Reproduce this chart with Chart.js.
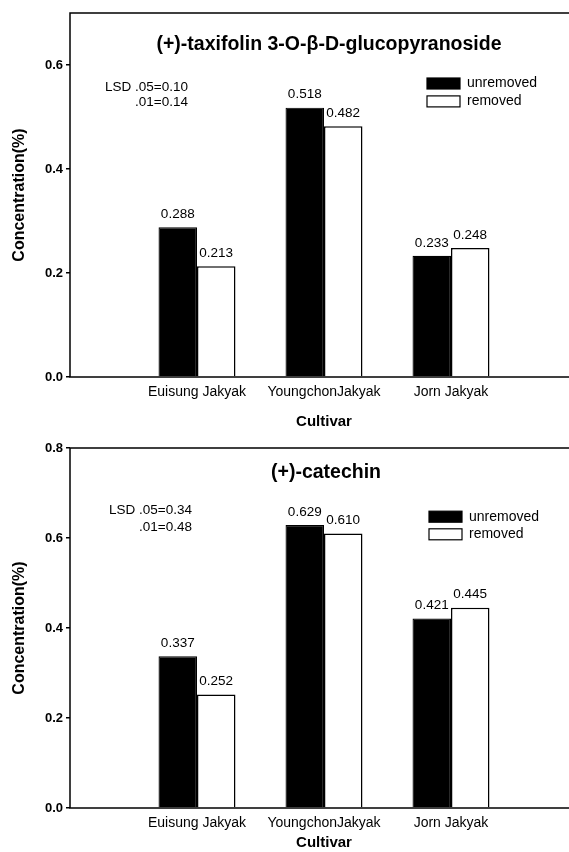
<!DOCTYPE html>
<html>
<head>
<meta charset="utf-8">
<script src="https://cdn.jsdelivr.net/npm/chart.js@4.4.0/dist/chart.umd.min.js"></script>
<style>
  html, body { margin: 0; padding: 0; background: #fff; overflow: hidden; width: 569px; height: 852px; }
  canvas { position: absolute; left: 0; }
  #grafico-taxifolin { top: 0; }
  #grafico-catechin { top: 432px; }
</style>
</head>
<body>
<canvas id="grafico-taxifolin" width="580" height="432"></canvas>
<canvas id="grafico-catechin" width="580" height="420"></canvas>
<script>
// --- DATA ---
const cultivars = ['Euisung Jakyak', 'YoungchonJakyak', 'Jorn Jakyak'];
const seriesNames = ['unremoved', 'removed'];
const taxifolinUnremoved = [0.288, 0.518, 0.233];
const taxifolinRemoved = [0.213, 0.482, 0.248];
const catechinUnremoved = [0.337, 0.629, 0.421];
const catechinRemoved = [0.252, 0.610, 0.445];
const taxifolinTicks = [0.0, 0.2, 0.4, 0.6];
const catechinTicks = [0.0, 0.2, 0.4, 0.6, 0.8];
const taxifolinLsd = ['LSD .05=0.10', '.01=0.14'];
const catechinLsd = ['LSD .05=0.34', '.01=0.48'];

const FONT = '"Liberation Sans", Arial, sans-serif';

// empty slot before and after the cultivars, so the groups sit at 1, 2, 3
const pad = arr => [null, ...arr, null];

// --- PLUGIN: frame, value labels, title, LSD note, legend ---
const painelPlugin = {
    id: 'painel',
    beforeDraw(chart) {
        const { ctx } = chart;
        ctx.save();
        ctx.fillStyle = '#fff';
        ctx.fillRect(0, 0, chart.width, chart.height);
        ctx.restore();
    },
    afterDatasetsDraw(chart, args, opts) {
        const { ctx, chartArea: a } = chart;
        ctx.save();
        ctx.strokeStyle = '#000';
        ctx.lineWidth = 1.5;
        ctx.strokeRect(a.left, a.top, a.right - a.left, a.bottom - a.top);

        // values over bars
        ctx.fillStyle = '#000';
        ctx.font = `13.5px ${FONT}`;
        ctx.textAlign = 'center';
        ctx.textBaseline = 'middle';
        chart.data.datasets.forEach((ds, i) => {
            chart.getDatasetMeta(i).data.forEach((bar, j) => {
                const v = ds.data[j];
                if (v == null) return;
                ctx.fillText(v.toFixed(3), bar.x, bar.y - 13);
            });
        });

        // title inside the plot
        ctx.font = `bold 19.5px ${FONT}`;
        ctx.fillText(opts.titulo, opts.tituloX, a.top + opts.tituloY);

        // LSD
        ctx.font = `13.5px ${FONT}`;
        ctx.textAlign = 'right';
        opts.lsd.forEach((linha, k) => ctx.fillText(linha, opts.lsdX, a.top + opts.lsdY[k]));

        // legend
        ctx.textAlign = 'left';
        ctx.font = `14px ${FONT}`;
        ctx.lineWidth = 1.2;
        chart.data.datasets.forEach((ds, i) => {
            const y = a.top + opts.legendaY[i];
            ctx.fillStyle = ds.backgroundColor;
            ctx.fillRect(opts.legendaX, y - 5.5, 33, 11);
            ctx.strokeRect(opts.legendaX, y - 5.5, 33, 11);
            ctx.fillStyle = '#000';
            ctx.fillText(ds.label, opts.legendaX + 40, y);
        });
        ctx.restore();
    }
};

function criarGrafico(canvasId, cfg) {
    const ctx = document.getElementById(canvasId).getContext('2d');
    return new Chart(ctx, {
        type: 'bar',
        data: {
            labels: pad(cultivars),
            datasets: [
                { label: seriesNames[0], data: pad(cfg.unremoved), backgroundColor: '#000', borderColor: '#000', borderWidth: 1.2 },
                { label: seriesNames[1], data: pad(cfg.removed), backgroundColor: '#fff', borderColor: '#000', borderWidth: 1.5 }
            ]
        },
        options: {
            responsive: false,
            animation: false,
            devicePixelRatio: 1,
            layout: { padding: { top: cfg.padTop, left: 0, right: 2, bottom: 0 } },
            plugins: {
                legend: { display: false },
                tooltip: { enabled: false },
                painel: cfg.painel
            },
            datasets: { bar: { categoryPercentage: 0.606, barPercentage: 1.0 } },
            scales: {
                x: {
                    type: 'category',
                    offset: false,
                    grid: { display: false, drawTicks: false },
                    border: { display: false },
                    ticks: { padding: 7, autoSkip: false, maxRotation: 0, color: '#000', font: { size: 14, family: FONT } },
                    title: { display: true, text: 'Cultivar', color: '#000', font: { size: 15, weight: 'bold', family: FONT }, padding: { top: 0, bottom: cfg.xTitlePad } },
                    afterFit(scale) { scale.height = cfg.xAxisHeight; }
                },
                y: {
                    min: 0,
                    max: cfg.yMax,
                    afterBuildTicks(scale) { scale.ticks = cfg.yTicks.map(v => ({ value: v })); },
                    grid: { drawOnChartArea: false, drawTicks: true, tickLength: 4, color: '#000', lineWidth: 1.5 },
                    border: { display: false },
                    ticks: { padding: 3, color: '#000', font: { size: 13, weight: 'bold', family: FONT }, callback: v => Number(v).toFixed(1) },
                    title: { display: true, text: 'Concentration(%)', color: '#000', font: { size: 16, weight: 'bold', family: FONT }, padding: { top: 10.4, bottom: 0 } },
                    afterFit(scale) { scale.width = 70; }
                }
            }
        },
        plugins: [painelPlugin]
    });
}

criarGrafico('grafico-taxifolin', {
    unremoved: taxifolinUnremoved,
    removed: taxifolinRemoved,
    yTicks: taxifolinTicks,
    yMax: 0.7,
    padTop: 13,
    xAxisHeight: 55,
    xTitlePad: 1.3,
    painel: {
        titulo: '(+)-taxifolin 3-O-\u03b2-D-glucopyranoside',
        tituloX: 329, tituloY: 32,
        lsd: taxifolinLsd, lsdX: 188, lsdY: [74, 89.5],
        legendaX: 427, legendaY: [70.5, 88.4]
    }
});

criarGrafico('grafico-catechin', {
    unremoved: catechinUnremoved,
    removed: catechinRemoved,
    yTicks: catechinTicks,
    yMax: 0.8,
    padTop: 16,
    xAxisHeight: 44,
    xTitlePad: 0,
    painel: {
        titulo: '(+)-catechin',
        tituloX: 326, tituloY: 25,
        lsd: catechinLsd, lsdX: 192, lsdY: [62, 79],
        legendaX: 429, legendaY: [68.7, 86.3]
    }
});
</script>
</body>
</html>
